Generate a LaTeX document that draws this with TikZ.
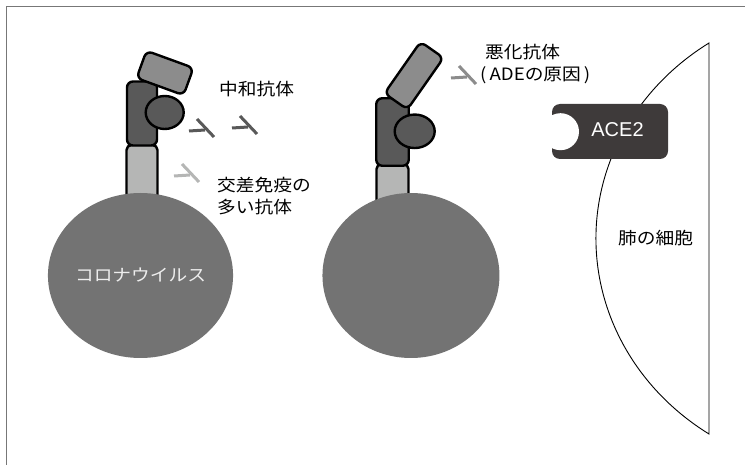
\documentclass[tikz,border=0pt]{standalone}
\usepackage{fontspec}
\setmainfont{Noto Sans CJK JP}[FakeStretch=1.1]
\newfontfamily\latinfont{Liberation Sans}
\usepackage{tikz}
\usetikzlibrary{positioning, shapes}
\definecolor{virusgray}{HTML}{737373}
\definecolor{spikedark}{HTML}{595959}
\definecolor{spikemid}{HTML}{8C8C8C}
\definecolor{spikelight}{HTML}{B5B6B5}
\definecolor{acegray}{HTML}{3E3A3A}
\definecolor{framegray}{HTML}{777777}
\tikzstyle{virus} = [ellipse, fill=virusgray, minimum width=177pt, minimum height=165pt, inner sep=0pt]
\tikzstyle{stalk} = [rectangle, draw, line width=2.4pt, rounded corners=5pt, fill=spikelight, inner sep=0pt]
\tikzstyle{stem} = [rectangle, draw, line width=2.4pt, rounded corners=6pt, fill=spikedark, inner sep=0pt]
\tikzstyle{spikecap} = [rectangle, draw, line width=2.4pt, rounded corners=6pt, fill=spikemid, inner sep=0pt]
\tikzstyle{knob} = [ellipse, draw, line width=2.4pt, fill=spikedark, inner sep=0pt]
\tikzstyle{acebox} = [rectangle, fill=acegray, rounded corners=8pt, inner sep=0pt]
\tikzstyle{label} = [inner sep=0pt, anchor=west, align=left]
\tikzset{antibody/.pic={
    \draw[line width=3pt] (-8,11) -- (9,-7);
    \draw[line width=3pt] (-16,-1) -- (0,0);
}}

\begin{document}
\begin{tikzpicture}[x=1pt, y=1pt, font=\fontsize{17}{22.5}\selectfont]
    \useasboundingbox (0,0) rectangle (745,464);
    \draw[framegray, line width=1.8pt] (6.5,457.5) rectangle (800,-50);

    % virus held off by antibodies
    \node[stalk, minimum width=31pt, minimum height=62pt] (stalkA) at (142,288) {};
    \node[virus] (virusA) at (140.5,188.5) {\color{white!93!black}コロナウイルス};
    \node[stem, minimum width=30pt, minimum height=64pt] (stemA) at (142,350.5) {};
    \node[spikecap, minimum width=50pt, minimum height=29pt, rotate=-20] (capA) at (165,391) {};
    \node[knob, minimum width=38pt, minimum height=33pt] (knobA) at (164.7,351.5) {};

    % virus with the enhancing antibody
    \node[stalk, minimum width=32pt, minimum height=42pt] (stalkB) at (392.5,279) {};
    \node[virus, right=89pt of virusA] (virusB) {};
    \node[stem, minimum width=32.5pt, minimum height=67.5pt] (stemB) at (392.5,332) {};
    \node[spikecap, minimum width=63pt, minimum height=28pt, rotate=55] (capB) at (414,388.4) {};
    \node[knob, minimum width=40pt, minimum height=33.5pt] (knobB) at (414.7,332.7) {};

    % antibodies
    \pic[spikedark] at (205,334) {antibody};
    \pic[spikedark] at (248,337) {antibody};
    \pic[spikelight] at (190,289) {antibody};
    \pic[spikemid] at (467,387) {antibody};

    \node[label] (neutral) at (219,375) {中和抗体};
    \node[label] (cross) at (217,268) {交差免疫の\\多い抗体};
    \node[label] (enhance) at (485,400) {悪化抗体\\\hspace*{-5pt}(\kern3pt ADEの原因\kern3pt)};

    % lung cell and receptor
    \draw[line width=0.9pt, fill=white] (709,421) arc[start angle=123.7, end angle=236.3, x radius=254pt, y radius=235pt] -- cycle;
    \node (lung) at (655.6,226) {肺の細胞};
    \node[acebox, minimum width=116pt, minimum height=55pt] (ace) at (610,332.5) {};
    \fill[white] (560.5,332.3) circle[radius=18.5pt];
    \node[text=white, font=\latinfont\fontsize{20}{24}\selectfont] at ([xshift=7.5pt, yshift=2pt]ace.center) {ACE2};
\end{tikzpicture}
\end{document}
